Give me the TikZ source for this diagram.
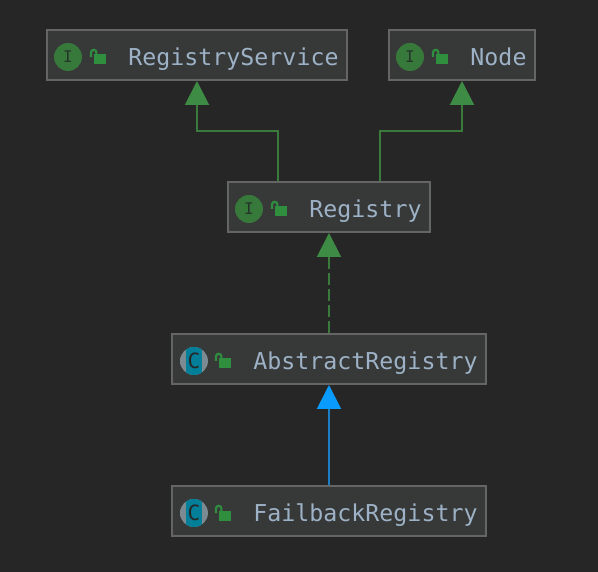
\documentclass[tikz,border=0pt]{standalone}
\usepackage{fontspec}
\setmonofont{DejaVu Sans Mono}
\usetikzlibrary{positioning,arrows.meta}
\definecolor{canvas}{HTML}{262626}
\definecolor{boxfill}{HTML}{373838}
\definecolor{boxline}{HTML}{656565}
\definecolor{labeltext}{HTML}{9DB2C6}
\definecolor{implgreen}{HTML}{3A7A3C}
\definecolor{tipgreen}{HTML}{3E8B45}
\definecolor{lockgreen}{HTML}{2F8F3F}
\definecolor{badgegreen}{HTML}{37793A}
\definecolor{badgeink}{HTML}{25352A}
\definecolor{badgegrey}{HTML}{7C8A91}
\definecolor{badgeteal}{HTML}{047F99}
\definecolor{extblue}{HTML}{0A9BFF}
\definecolor{extline}{HTML}{1C7FC6}
\tikzset{
    lockicon/.pic={
        \fill[lockgreen] (-4,-0.5) rectangle (8,9.5);
        \draw[lockgreen,line width=2.2pt] (-7,2) -- (-7,-2.5) arc[start angle=180,end angle=360,radius=2.7] -- (-1.6,0);
    }
}
\begin{document}
\begin{tikzpicture}[
        x=1pt,y=-1pt,
        typebox/.style={draw=boxline,fill=boxfill,line width=2pt,font=\ttfamily\fontsize{23.26}{26}\selectfont,text=labeltext,
            inner xsep=8.5pt,inner ysep=0pt,text height=25pt,text depth=4pt,minimum height=50pt,
            execute at begin node={\hspace*{73pt}}},
        badge/.style={circle,minimum size=28pt,inner sep=0pt,font=\ttfamily\fontsize{16}{16}\selectfont,text=badgeink,yshift=-2pt},
        ibadge/.style={badge,fill=badgegreen},
        cbadge/.style={badge,fill=badgegrey,font=\ttfamily\fontsize{21}{21}\selectfont,text=canvas,
            path picture={\fill[badgeteal] ([xshift=-8pt]path picture bounding box.north) rectangle ([xshift=8pt]path picture bounding box.south);}},
        implements/.style={implgreen,line width=2pt,-{Triangle[length=24pt,width=24pt,color=tipgreen]}},
        extends/.style={extline,line width=2pt,-{Triangle[length=24pt,width=24pt,color=extblue]}},
        node distance=100pt]
        \useasboundingbox[fill=canvas] (0,0) rectangle (598,572);
        \node[typebox] (service) at (197,55) {RegistryService};
        \node[typebox] (node) at (462,55) {Node};
        \node[typebox] (registry) at (329,207) {Registry};
        \node[typebox,below=of registry] (abstract) {AbstractRegistry};
        \node[typebox,below=of abstract] (failback) {FailbackRegistry};
        \coordinate (bend) at (0,131);
        % badges and locks
        \node[ibadge] (servicebadge) at ([xshift=22pt]service.west) {I};
        \node[ibadge] (nodebadge) at ([xshift=22pt]node.west) {I};
        \node[ibadge] (registrybadge) at ([xshift=22pt]registry.west) {I};
        \node[cbadge] (abstractbadge) at ([xshift=23pt]abstract.west) {C};
        \node[cbadge] (failbackbadge) at ([xshift=23pt]failback.west) {C};
        \pic at ([xshift=52pt]service.west) {lockicon};
        \pic at ([xshift=52pt]node.west) {lockicon};
        \pic at ([xshift=52pt]registry.west) {lockicon};
        \pic at ([xshift=52pt]abstract.west) {lockicon};
        \pic at ([xshift=52pt]failback.west) {lockicon};
        % arrows
        \draw[implements] ([xshift=-51pt]registry.north) |- (service.south |- bend) -- (service.south);
        \draw[implements] ([xshift=51pt]registry.north) |- (node.south |- bend) -- (node.south);
        \draw[implements,dash pattern=on 12pt off 4pt] (abstract) -- (registry);
        \draw[extends] (failback) -- (abstract);
    \end{tikzpicture}
\end{document}
